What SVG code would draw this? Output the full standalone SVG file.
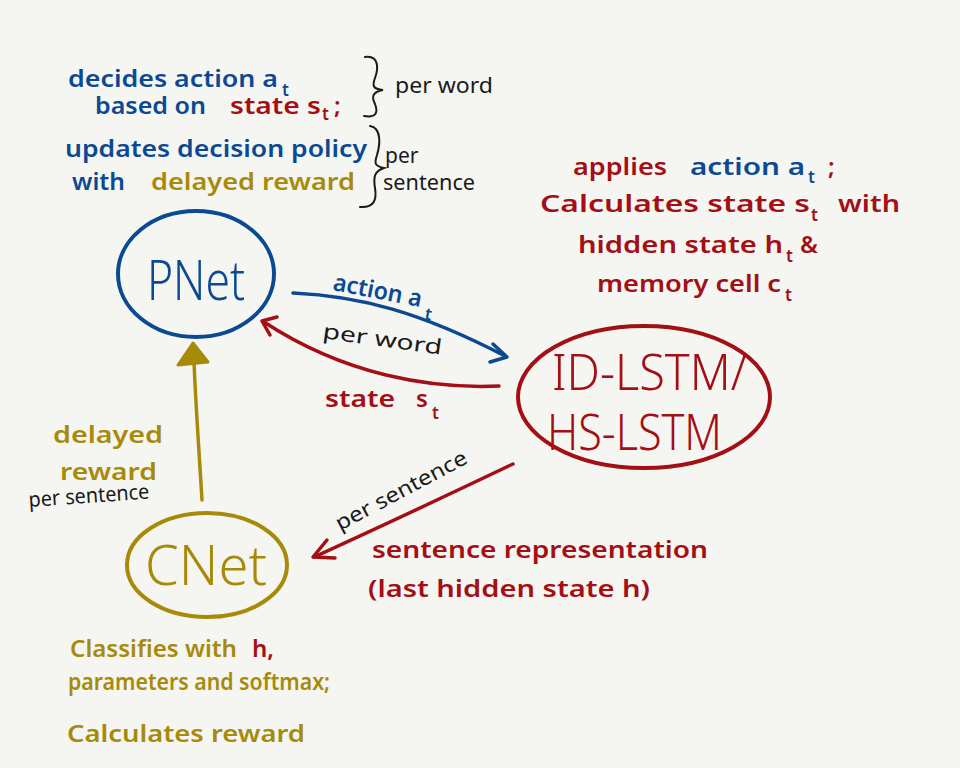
<svg xmlns="http://www.w3.org/2000/svg" width="960" height="768" viewBox="0 0 960 768">
<style>
text { font-family: "Noto Sans", "Open Sans", "DejaVu Sans", sans-serif; }
.b { fill: #0b4a93; }
.r { fill: #a30f14; }
.g { fill: #a88a0a; }
.k { fill: #1a1a1a; }
.t1 { font-size: 24px; font-weight: 600; }
.sub { font-size: 17px; font-weight: 600; }
.note { font-size: 21px; font-weight: 400; }
.node { font-size: 56px; font-weight: 300; }
.ln { fill: none; stroke-width: 3.5; stroke-linecap: round; stroke-linejoin: round; }
.sb { stroke: #0b4a93; }
.sr { stroke: #a30f14; }
.sg { stroke: #a88a0a; }
.sk { fill: none; stroke: #1a1a1a; stroke-width: 2; stroke-linecap: round; }
</style>
<rect width="960" height="768" fill="#f5f6f1"/>

<!-- annotations top-left -->
<g id="pnet-notes">
  <text class="t1 b" x="68" y="87" textLength="210" lengthAdjust="spacingAndGlyphs">decides action a</text>
  <text class="sub b" x="282" y="96">t</text>
  <text class="t1 b" x="95" y="114" textLength="111" lengthAdjust="spacingAndGlyphs">based on</text>
  <text class="t1 r" x="230" y="114" textLength="91" lengthAdjust="spacingAndGlyphs">state s</text>
  <text class="sub r" x="322" y="120">t</text>
  <text class="t1 r" x="334" y="114">;</text>
  <path class="sk" d="M365,57 C380,55 378,70 375,78 C372,86 373,89 383,90 C373,92 371,96 375,104 C378,112 377,118 364,116"/>
  <text class="note k" x="395" y="93" textLength="98" lengthAdjust="spacingAndGlyphs">per word</text>
  <text class="t1 b" x="65" y="157" textLength="302" lengthAdjust="spacingAndGlyphs">updates decision policy</text>
  <text class="t1 b" x="72" y="190" textLength="53" lengthAdjust="spacingAndGlyphs">with</text>
  <text class="t1 g" x="151" y="190" textLength="204" lengthAdjust="spacingAndGlyphs">delayed reward</text>
  <path class="sk" d="M370,126 C382,128 380,145 377,155 C374,164 375,166 384,168 C375,171 373,176 375,188 C377,200 374,208 360,207"/>
  <text class="note k" x="385" y="163">per</text>
  <text class="note k" x="383" y="190" textLength="92" lengthAdjust="spacingAndGlyphs">sentence</text>
</g>

<!-- annotations right -->
<g id="lstm-notes">
  <text class="t1 r" x="573" y="175" textLength="94" lengthAdjust="spacingAndGlyphs">applies</text>
  <text class="t1 b" x="690" y="175" textLength="115" lengthAdjust="spacingAndGlyphs">action a</text>
  <text class="sub b" x="808" y="183">t</text>
  <text class="t1 r" x="828" y="175">;</text>
  <text class="t1 r" x="540" y="212" textLength="270" lengthAdjust="spacingAndGlyphs">Calculates state s</text>
  <text class="sub r" x="811" y="221">t</text>
  <text class="t1 r" x="838" y="212" textLength="62" lengthAdjust="spacingAndGlyphs">with</text>
  <text class="t1 r" x="578" y="253" textLength="205" lengthAdjust="spacingAndGlyphs">hidden state h</text>
  <text class="sub r" x="786" y="262">t</text>
  <text class="t1 r" x="800" y="253">&amp;</text>
  <text class="t1 r" x="597" y="292" textLength="184" lengthAdjust="spacingAndGlyphs">memory cell c</text>
  <text class="sub r" x="785" y="301">t</text>
</g>

<!-- nodes -->
<g id="pnet">
  <ellipse cx="196" cy="274" rx="78" ry="63" fill="none" stroke="#0b4a93" stroke-width="4"/>
  <text class="node b" x="196" y="300" text-anchor="middle" textLength="98" lengthAdjust="spacingAndGlyphs">PNet</text>
</g>

<g id="lstm">
  <ellipse cx="644" cy="397" rx="126" ry="71" fill="none" stroke="#a30f14" stroke-width="4"/>
  <text class="node r" x="552" y="390" textLength="195" lengthAdjust="spacingAndGlyphs" style="font-size:50px">ID-LSTM/</text>
  <text class="node r" x="547" y="450" textLength="175" lengthAdjust="spacingAndGlyphs" style="font-size:50px">HS-LSTM</text>
</g>

<g id="cnet">
  <ellipse cx="207" cy="565" rx="80" ry="52" fill="none" stroke="#a88a0a" stroke-width="4"/>
  <text class="node g" x="206" y="585" text-anchor="middle" textLength="122" lengthAdjust="spacingAndGlyphs">CNet</text>
</g>

<g id="cnet-notes">
  <text class="t1 g" x="70" y="657" textLength="167" lengthAdjust="spacingAndGlyphs">Classifies with</text>
  <text class="t1 r" x="252" y="657">h,</text>
  <text class="t1 g" x="68" y="690" textLength="262" lengthAdjust="spacingAndGlyphs">parameters and softmax;</text>
  <text class="t1 g" x="67" y="742" textLength="238" lengthAdjust="spacingAndGlyphs">Calculates reward</text>
</g>

<!-- connectors -->
<g id="connectors">
  <!-- action -->
  <path class="ln sb" d="M293,293 C360,296 420,312 505,356"/>
  <path class="ln sb" d="M493,344 L507,357 L490,362"/>
  <text class="t1 b" x="332" y="290" transform="rotate(11 332 290)" textLength="90" lengthAdjust="spacingAndGlyphs">action a</text>
  <text class="sub b" x="424" y="319" transform="rotate(11 424 319)">t</text>
  <text class="note k" x="322" y="338" transform="rotate(8 322 338)" textLength="120" lengthAdjust="spacingAndGlyphs">per word</text>

  <!-- state -->
  <path class="ln sr" d="M499,386 C430,389 345,375 264,322"/>
  <path class="ln sr" d="M277,317 L262,321 L270,335"/>
  <text class="t1 r" x="325" y="407" textLength="70" lengthAdjust="spacingAndGlyphs">state</text>
  <text class="t1 r" x="416" y="407">s</text>
  <text class="sub r" x="432" y="419">t</text>

  <!-- reward -->
  <path class="ln sg" d="M202,500 C199,450 196,410 194,362"/>
  <path d="M178,365 L193,343 L208,362 Z" fill="#a88a0a" stroke="#a88a0a" stroke-width="3" stroke-linejoin="round"/>
  <text class="t1 g" x="53" y="443" textLength="110" lengthAdjust="spacingAndGlyphs">delayed</text>
  <text class="t1 g" x="60" y="480" textLength="97" lengthAdjust="spacingAndGlyphs">reward</text>
  <text class="note k" x="29" y="507" transform="rotate(-4 29 507)" textLength="121" lengthAdjust="spacingAndGlyphs">per sentence</text>

  <!-- sentence representation -->
  <path class="ln sr" d="M513,464 C450,494 380,527 314,557"/>
  <path class="ln sr" d="M327,540 L313,557 L335,558"/>
  <text class="note k" x="340" y="531" transform="rotate(-28 340 531)" textLength="146" lengthAdjust="spacingAndGlyphs">per sentence</text>
  <text class="t1 r" x="372" y="558" textLength="336" lengthAdjust="spacingAndGlyphs">sentence representation</text>
  <text class="t1 r" x="368" y="597" textLength="282" lengthAdjust="spacingAndGlyphs">(last hidden state h)</text>
</g>
</svg>
